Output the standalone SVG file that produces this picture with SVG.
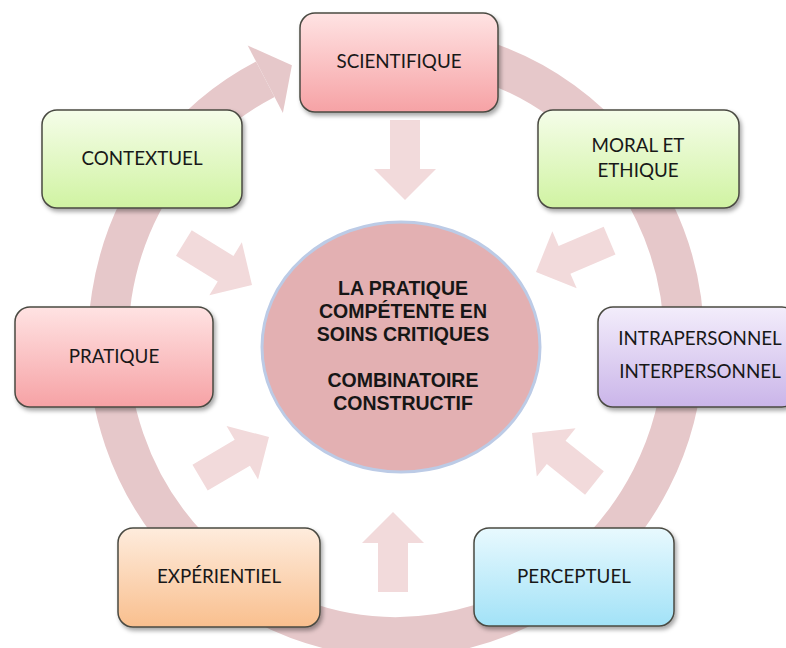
<svg xmlns="http://www.w3.org/2000/svg" width="786" height="648" viewBox="0 0 786 648">
<style>
.box{stroke:#4a4a42;stroke-width:1.5;filter:url(#sh)}
.lbl{font-family:Lato,"Open Sans","Liberation Sans",sans-serif;font-size:18.8px;fill:#181818;text-anchor:middle}
.ctr{font-family:"Liberation Sans",Arial,sans-serif;font-weight:bold;font-size:19.5px;fill:#161616;text-anchor:middle}
.inarrow{fill:#f2dadb}
</style>
<defs>
<filter id="sh" x="-10%" y="-10%" width="125%" height="130%">
<feDropShadow dx="2" dy="3" stdDeviation="2" flood-color="#000" flood-opacity="0.35"/>
</filter>
<linearGradient id="gPink" x1="0" y1="0" x2="0" y2="1"><stop offset="0" stop-color="#ffe3e3"/><stop offset="1" stop-color="#f6a2a5"/></linearGradient>
<linearGradient id="gGreen" x1="0" y1="0" x2="0" y2="1"><stop offset="0" stop-color="#f5fde9"/><stop offset="1" stop-color="#d0f3a2"/></linearGradient>
<linearGradient id="gPurple" x1="0" y1="0" x2="0" y2="1"><stop offset="0" stop-color="#f3edfb"/><stop offset="1" stop-color="#cab5e9"/></linearGradient>
<linearGradient id="gOrange" x1="0" y1="0" x2="0" y2="1"><stop offset="0" stop-color="#feecdd"/><stop offset="1" stop-color="#f9bf8e"/></linearGradient>
<linearGradient id="gBlue" x1="0" y1="0" x2="0" y2="1"><stop offset="0" stop-color="#e8f9fe"/><stop offset="1" stop-color="#a2e2f7"/></linearGradient>
<polygon id="arr" points="0,0 -31,-31 -31,-15 -80,-15 -80,15 -31,15 -31,31"/>
</defs>

<g id="connectors">
  <path d="M 446 51.5 A 288 295 0 1 1 265.3 79.2" fill="none" stroke="#e6c8ca" stroke-width="40"/>
  <polygon points="291.9,65.3 247.7,45.5 282.9,112.9" fill="#e6c8ca"/>
  <use href="#arr" class="inarrow" transform="translate(405 200) rotate(90)"/>
  <use href="#arr" class="inarrow" transform="translate(536 272) rotate(156.9)"/>
  <use href="#arr" class="inarrow" transform="translate(532 433) rotate(-141.3)"/>
  <use href="#arr" class="inarrow" transform="translate(393 512) rotate(-90)"/>
  <use href="#arr" class="inarrow" transform="translate(269 437) rotate(-30.5)"/>
  <use href="#arr" class="inarrow" transform="translate(252 285) rotate(31.6)"/>
</g>

<g id="center">
  <ellipse cx="401" cy="347" rx="139" ry="125" fill="#e3b0b2" stroke="#bccbe6" stroke-width="3"/>
  <text class="ctr" x="403" y="295">LA PRATIQUE</text>
  <text class="ctr" x="403" y="318">COMPÉTENTE EN</text>
  <text class="ctr" x="403" y="341">SOINS CRITIQUES</text>
  <text class="ctr" x="403" y="387">COMBINATOIRE</text>
  <text class="ctr" x="403" y="410">CONSTRUCTIF</text>
</g>

<g id="scientifique">
  <rect class="box" x="300" y="13" width="198" height="99" rx="15" fill="url(#gPink)"/>
  <text class="lbl" x="399" y="68">SCIENTIFIQUE</text>
</g>
<g id="moral">
  <rect class="box" x="538" y="110" width="201" height="98" rx="15" fill="url(#gGreen)"/>
  <text class="lbl" x="638" y="152">MORAL ET</text>
  <text class="lbl" x="638" y="177">ETHIQUE</text>
</g>
<g id="intrapersonnel">
  <rect class="box" x="598" y="307" width="199" height="100" rx="15" fill="url(#gPurple)"/>
  <text class="lbl" x="700" y="345">INTRAPERSONNEL</text>
  <text class="lbl" x="700" y="378">INTERPERSONNEL</text>
</g>
<g id="perceptuel">
  <rect class="box" x="474" y="528" width="200" height="98" rx="15" fill="url(#gBlue)"/>
  <text class="lbl" x="574" y="583">PERCEPTUEL</text>
</g>
<g id="experientiel">
  <rect class="box" x="118" y="528" width="202" height="99" rx="15" fill="url(#gOrange)"/>
  <text class="lbl" x="219" y="583">EXPÉRIENTIEL</text>
</g>
<g id="pratique">
  <rect class="box" x="15" y="307" width="198" height="100" rx="15" fill="url(#gPink)"/>
  <text class="lbl" x="114" y="363">PRATIQUE</text>
</g>
<g id="contextuel">
  <rect class="box" x="42" y="110" width="200" height="98" rx="15" fill="url(#gGreen)"/>
  <text class="lbl" x="142" y="165">CONTEXTUEL</text>
</g>
</svg>
